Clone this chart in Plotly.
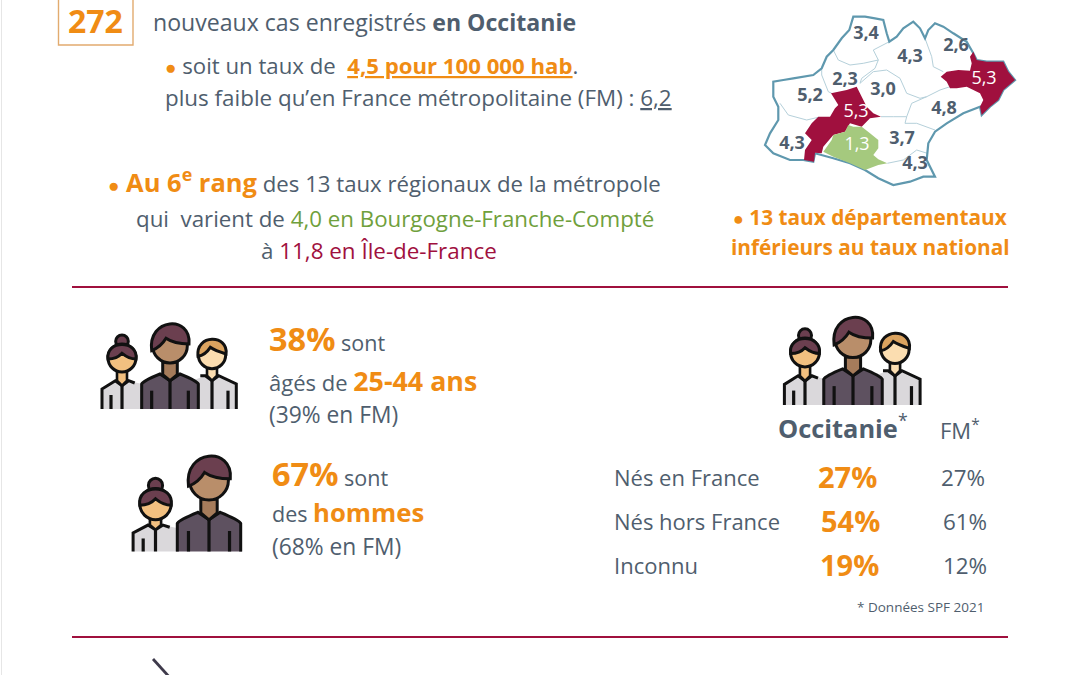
import plotly.graph_objects as go

#%% data
dept_rates = ["3,4", "4,3", "2,6", "2,3", "3,0", "5,3", "5,2", "5,3", "4,8", "4,3", "1,3", "3,7", "4,3"]
dept_colors = ["#4f5e6e"] * 13
dept_colors[5] = "white"
dept_colors[7] = "white"
dept_colors[10] = "white"
dept_x = [866, 910, 956, 845, 883, 984, 810, 856, 944, 792, 857, 902, 915]
dept_y = [34, 57, 46, 80, 90, 79, 96, 112, 109, 144, 145, 139, 164]

birth_labels = ["Nés en France", "Nés hors France", "Inconnu"]
birth_occitanie = ["27%", "54%", "19%"]
birth_fm = ["27%", "61%", "12%"]

cases = "272"
rate_occitanie = "4,5"
rate_fm = "6,2"

#%% colours
GREY = "#4f5e6e"
ORANGE = "#f08c14"
CRIMSON = "#a0103e"
GREEN = "#6fa03c"
FONT = "Open Sans"
INK = "#111111"

# map outlines, in the coordinates of a 3x crop starting at (750, 0)
outer = [(250,150),(275,115),(298,90),(310,50),(345,50),(375,55),(400,60),(410,100),(418,125),(440,110),
         (460,85),(490,65),(510,85),(525,115),(535,90),(555,70),(580,80),(610,100),(650,125),(670,160),
         (680,180),(710,185),(760,185),(775,215),(795,240),(760,270),(745,300),(720,320),(695,345),
         (690,320),(640,340),(590,370),(555,395),(535,430),(530,480),(555,530),(520,530),(480,545),
         (430,555),(385,535),(345,510),(300,490),(250,475),(195,460),(190,485),(160,480),(120,480),
         (70,460),(45,435),(60,400),(85,360),(85,320),(70,290),(70,245),(100,240),(130,235),(190,225),
         (215,205),(230,170)]
inner = [
    [(250,150),(265,180),(300,195),(340,190),(385,180),(370,150),(418,125)],
    [(385,180),(375,205),(335,235),(330,250)],
    [(215,205),(215,225),(235,275),(245,280)],
    [(330,250),(370,215),(410,210),(450,235),(470,280),(510,295),(530,290),(570,270),(600,260)],
    [(525,115),(545,170),(550,200),(580,215)],
    [(530,290),(485,310),(470,350),(465,370),(500,370),(555,390)],
    [(393,350),(430,350),(470,350)],
    [(90,310),(115,345),(170,360),(205,352)],
    [(412,490),(460,480),(500,450),(532,460)],
]
red_hg = [(243,280),(290,270),(320,260),(335,290),(350,320),(370,340),(393,350),(360,355),(335,380),(300,370),
          (285,395),(250,405),(220,440),(215,460),(195,458),(192,485),(162,480),(165,450),(185,420),(165,400),
          (185,370),(205,350),(240,350),(255,325),(265,315)]
red_gard = [(670,155),(680,180),(710,185),(760,185),(775,215),(795,240),(760,270),(745,300),(720,320),(695,345),
            (690,320),(700,300),(690,280),(650,260),(620,265),(600,265),(590,245),(572,230),(590,215),(625,210),
            (660,212),(665,190),(660,170)]
green_ariege = [(220,455),(245,420),(250,405),(285,395),(295,375),(310,380),(335,380),(360,400),(385,420),
                (385,445),(370,465),(385,478),(412,490),(385,495),(345,510),(300,490),(250,470)]

shapes = []


def map_path(points, close=True):
    pts = [(750 + x / 3, y / 3) for x, y in points]
    d = "M" + " L".join(f"{x:.1f},{y:.1f}" for x, y in pts)
    return d + (" Z" if close else "")


def add_path(d, fill=None, color=None, width=0):
    shapes.append(dict(type="path", path=d, layer="below", fillcolor=fill or "rgba(0,0,0,0)",
                       line=dict(color=color or "rgba(0,0,0,0)", width=width)))


def add_line(x0, y0, x1, y1, color, width):
    shapes.append(dict(type="line", layer="below", x0=x0, y0=y0, x1=x1, y1=y1, line=dict(color=color, width=width)))


def local_path(cmds, ox, oy, sx, sy):
    out = []
    for c in cmds:
        if isinstance(c, str):
            out.append(c)
        else:
            out.append(f"{ox + c[0] * sx / 3:.1f},{oy + c[1] * sy / 3:.1f}")
    return " ".join(out)


def add_circle(cx, cy, r, fill, width=3):
    shapes.append(dict(type="circle", layer="below", x0=cx - r, x1=cx + r, y0=cy - r, y1=cy + r,
                       fillcolor=fill, line=dict(color=INK, width=width)))


def man(ox, oy, s=1.0):
    add_path(local_path(["M", (-88, 0), "L", (-88, -75), "Q", (-85, -85), (-30, -105), "L", (30, -105), "Q", (85, -85), (88, -75), "L", (88, 0), "Z"], ox, oy, s, s),
             "#5e5160", None, 0)
    add_path(local_path(["M", (-85, 0), "L", (-85, -75), "Q", (-80, -85), (-30, -105), "L", (0, -85), "L", (30, -105), "Q", (80, -85), (85, -75), "L", (85, 0)], ox, oy, s, s),
             None, INK, 3)
    add_path(local_path(["M", (-22, -140), "L", (-22, -103), "L", (0, -85), "L", (22, -103), "L", (22, -140), "Z"], ox, oy, s, s),
             "#a67c5b", INK, 3)
    for x, top in [(-55, -55), (0, -85), (55, -55)]:
        add_line(ox + x * s / 3, oy + top * s / 3, ox + x * s / 3, oy, INK, 3.2)
    add_circle(ox, oy - 190 * s / 3, 52 * s / 3, "#b98e6a")
    add_path(local_path(["M", (-55, -175), "C", (-68, -275), (65, -282), (57, -195), "C", (25, -195), (5, -200), (-12, -212),
                         "C", (-22, -195), (-38, -182), (-55, -175), "Z"], ox, oy, s, s), "#6b3f4f", INK, 3)


def woman(ox, oy, sx=1.0, sy=1.0):
    add_path(local_path(["M", (-60, 0), "L", (-60, -60), "L", (-20, -85), "L", (20, -85), "L", (60, -75), "L", (60, 0), "Z"], ox, oy, sx, sy),
             "#dad8db")
    add_path(local_path(["M", (-60, 0), "L", (-60, -60), "L", (-20, -85), "L", (0, -70), "L", (20, -85), "L", (38, -78)], ox, oy, sx, sy),
             None, INK, 3)
    add_path(local_path(["M", (-15, -115), "L", (-15, -85), "L", (0, -70), "L", (15, -85), "L", (15, -115), "Z"], ox, oy, sx, sy),
             "#f2c080", INK, 2.6)
    add_line(ox, oy - 70 * sy / 3, ox, oy, INK, 3.2)
    add_line(ox - 33 * sx / 3, oy - 42 * sy / 3, ox - 33 * sx / 3, oy, INK, 3.2)
    hy = oy - 153 * sy / 3
    add_circle(ox, hy - 50 * sx / 3, 19 * sx / 3, "#6b3f4f")
    add_circle(ox, hy, 42 * sx / 3, "#f2c080")
    add_path(local_path(["M", (-42, 3), "C", (-50, -55), (50, -55), (42, 3), "C", (20, 3), (5, -10), (0, -14),
                         "C", (-8, -5), (-25, 3), (-42, 3), "Z"], ox, hy, sx, sx), "#6b3f4f", INK, 3)


def blond(ox, oy, s=1.0):
    add_path(local_path(["M", (-60, 0), "L", (-60, -85), "L", (-20, -100), "L", (20, -100), "L", (73, -75), "L", (73, 0), "Z"], ox, oy, s, s),
             "#dad8db")
    add_path(local_path(["M", (-35, -100), "L", (-20, -100), "L", (0, -85), "L", (20, -100), "L", (73, -75), "L", (73, 0)], ox, oy, s, s),
             None, INK, 3)
    add_path(local_path(["M", (-15, -125), "L", (-15, -100), "L", (0, -85), "L", (15, -100), "L", (15, -125), "Z"], ox, oy, s, s),
             "#fbddb0", INK, 2.6)
    add_line(ox, oy - 85 * s / 3, ox, oy, INK, 3.2)
    add_line(ox + 48 * s / 3, oy - 55 * s / 3, ox + 48 * s / 3, oy, INK, 3.2)
    add_circle(ox, oy - 162 * s / 3, 41 * s / 3, "#fbddb0")
    add_path(local_path(["M", (-42, -158), "C", (-50, -225), (50, -225), (42, -165), "C", (20, -172), (5, -178), (-5, -185),
                         "C", (-15, -170), (-30, -160), (-42, -158), "Z"], ox, oy, s, s), "#dba35f", INK, 3)


def trio(dx, dy, s=1.0):
    woman(122 + dx, 409 + dy, s, s)
    blond(212 + dx, 409 + dy, s)
    man(170 + dx, 409 + dy, s)


#%% shapes
add_path(map_path(outer), "white")
for part in inner:
    add_path(map_path(part, close=False), None, "#b5d0da", 1)
add_path(map_path(outer), None, "#5f98ae", 2.2)
add_path(map_path(red_hg), CRIMSON)
add_path(map_path(red_gard), CRIMSON)
add_path(map_path(green_ariege), "#a5c97e")

shapes.append(dict(type="rect", layer="below", x0=58.5, x1=133, y0=-5, y1=45, line=dict(color="#e2ab6f", width=1.4)))
add_line(72, 287, 1008, 287, CRIMSON, 2)
add_line(72, 637, 1008, 637, CRIMSON, 2)
add_line(153, 659, 172, 680, "#3e3a4b", 2.8)
add_line(1.5, 0, 1.5, 675, "#e6e6e6", 1)

trio(0, 0)
trio(683, -4, 1.03)
woman(155.5, 551.5, 1.12, 0.93)
man(209, 551.5, 1.12)

#%% text
annotations = []
BULLET = "●"


def label(x, y, text, size=20, color=GREY, anchor="left"):
    if anchor == "left":
        x -= 2
    annotations.append(dict(x=x, y=y, text=text, xref="x", yref="y", showarrow=False, xanchor=anchor, yanchor="middle",
                            align=anchor, font=dict(family=FONT, size=size, color=color)))


def hl(text, color=ORANGE, size=None):
    style = f"color:{color}" + (f";font-size:{size}px" if size else "")
    return f'<span style="{style}">{text}</span>'


label(95, 20, f"<b>{cases}</b>", 32, ORANGE, "center")
label(153, 22, "nouveaux cas enregistrés <b>en Occitanie</b>", 23.1)
label(165, 65, hl(BULLET, size=19) + " soit un taux de  " + hl(f"<b><u>{rate_occitanie} pour 100 000 hab</u></b>") + ".", 22.2)
label(165, 97, f"plus faible qu’en France métropolitaine (FM) : <u>{rate_fm}</u>", 22.4)
label(384, 180, hl(BULLET, size=19) + hl(" <b>Au 6<sup>e</sup> rang</b>", size=25.5) + " des 13 taux régionaux de la métropole", 22.2, GREY, "center")
label(136, 218, "qui  varient de " + hl("4,0 en Bourgogne-Franche-Compté", GREEN), 22.3)
label(261, 250, "à " + hl("11,8 en Île-de-France", CRIMSON), 22.4)
label(870, 217, hl(BULLET, size=18) + "<b> 13 taux départementaux</b>", 20.8, ORANGE, "center")
label(870, 247, "<b>inférieurs au taux national</b>", 20.8, ORANGE, "center")

label(269, 338, hl("<b>38%</b>", size=32.5) + "\u00a0sont", 21.5)
label(269, 380, "âgés de " + hl("<b>25-44 ans</b>", size=26.8), 22)
label(269, 414, "(39% en FM)", 22.8)
label(272, 473, hl("<b>67%</b>", size=32.5) + " sont", 21.5)
label(272, 512, "des " + hl("<b>hommes</b>", size=25.7), 21.5)
label(272, 546, "(68% en FM)", 22.8)

label(778, 426, "<b>Occitanie</b><sup>*</sup>", 25.4)
label(940, 429, "FM<sup>*</sup>", 22)
for i, row_y in enumerate([477, 521, 565]):
    label(614, row_y, birth_labels[i], 22)
    label([847, 850, 849][i], row_y - 1, f"<b>{birth_occitanie[i]}</b>", 29, ORANGE, "center")
    label([963, 965, 965][i], row_y, birth_fm[i], 22.4, GREY, "center")
label(857, 607, "* Données SPF 2021", 13.5)

#%% figure
fig = go.Figure(go.Scatter(x=dept_x, y=dept_y, mode="text", text=[f"<b>{r}</b>" if c != "white" else r for r, c in zip(dept_rates, dept_colors)],
                           textfont=dict(family=FONT, size=18, color=dept_colors), hoverinfo="skip"))
fig.update_layout(width=1080, height=675, margin=dict(l=0, r=0, t=0, b=0), showlegend=False,
                  paper_bgcolor="white", plot_bgcolor="white", shapes=shapes, annotations=annotations,
                  xaxis=dict(range=[0, 1080], visible=False, fixedrange=True),
                  yaxis=dict(range=[675, 0], visible=False, fixedrange=True))
fig.write_html("out.html", config=dict(displayModeBar=False), post_script="document.body.style.margin='0';")
